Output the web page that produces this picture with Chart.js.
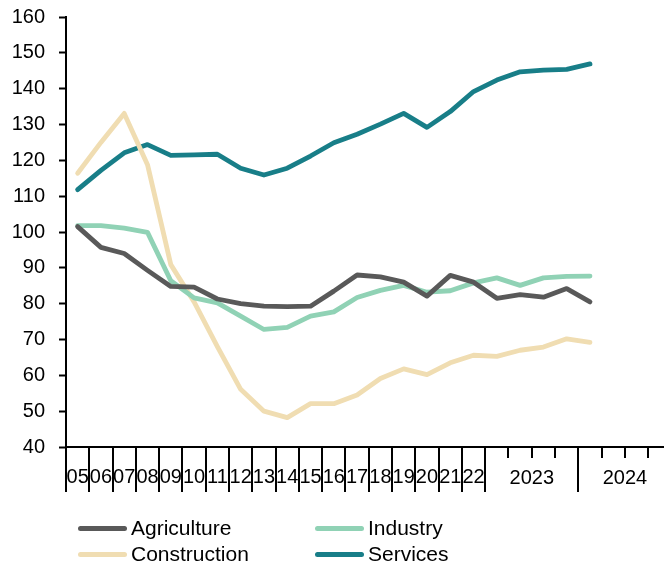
<!DOCTYPE html>
<html lang="en">
<head>
    <meta charset="UTF-8">
    <title>Gross value added by sector</title>
    <script src="https://cdn.jsdelivr.net/npm/chart.js"></script>
    <style>
        body { margin: 0; overflow: hidden; background: #fff; }
        #wrap { position: relative; width: 680px; height: 567px; }
        #legend {
            position: absolute; left: 78px; top: 516px;
            display: grid; grid-template-columns: 237px 200px; row-gap: 2px;
            font: 21px "Liberation Sans", Arial, sans-serif; color: #000;
        }
        .item { display: flex; align-items: center; height: 24px; }
        .swatch { width: 49px; height: 5px; border-radius: 3px; margin-right: 4px; }
    </style>
</head>
<body>
<div id="wrap">
    <canvas id="chart" width="680" height="567"></canvas>
    <div id="legend"></div>
</div>
<script>
    // annual categories, then quarters of 2023 and 2024
    const years = ['05', '06', '07', '08', '09', '10', '11', '12', '13', '14', '15', '16', '17', '18', '19', '20', '21', '22'];
    const quarterYears = ['2023', '2024'];
    const quarters = ['Q1', 'Q2', 'Q3', 'Q4'];
    const labels = years.concat(...quarterYears.map(y => quarters.map(q => y + ' ' + q)));

    const agriculture = [101.5, 95.7, 94.0, 89.3, 84.8, 84.6, 81.3, 80.0, 79.3, 79.2, 79.3, 83.5, 88.0, 87.5, 86.0, 82.1, 87.9, 86.0, 81.5, 82.5, 81.8, 84.2, 80.5];
    const industry = [101.8, 101.8, 101.1, 99.9, 86.4, 81.6, 80.2, 76.5, 72.8, 73.4, 76.5, 77.7, 81.7, 83.7, 85.1, 83.2, 83.6, 85.8, 87.2, 85.1, 87.2, 87.6, 87.7];
    const construction = [116.4, 125.0, 133.1, 118.8, 90.9, 80.5, 68.0, 56.1, 50.0, 48.2, 52.1, 52.1, 54.5, 59.1, 61.8, 60.2, 63.5, 65.6, 65.3, 67.0, 67.9, 70.2, 69.2];
    const services = [111.8, 117.2, 122.1, 124.4, 121.4, 121.5, 121.7, 117.8, 115.9, 117.8, 121.2, 124.9, 127.3, 130.1, 133.1, 129.2, 133.6, 139.2, 142.4, 144.7, 145.2, 145.4, 146.9];

    const FONT = '"Liberation Sans", Arial, sans-serif';

    const series = [
        { label: 'Agriculture', data: agriculture, color: '#595959' },
        { label: 'Industry', data: industry, color: '#90d2b5' },
        { label: 'Construction', data: construction, color: '#f0ddb2' },
        { label: 'Services', data: services, color: '#187e88' }
    ];

    // tick marks under the x axis: long ones between years, short ones between quarters
    const xTicks = {
        id: 'xTicks',
        afterDraw(chart) {
            const ctx = chart.ctx, x = chart.scales.x, b = chart.chartArea.bottom;
            const half = (x.getPixelForValue(1) - x.getPixelForValue(0)) / 2;
            ctx.save();
            ctx.strokeStyle = '#000';
            ctx.lineWidth = 2;
            ctx.beginPath();
            for (let i = 0; i <= labels.length; i++) {
                const px = Math.round(x.getPixelForValue(i) - half);
                const long = i <= years.length || (i - years.length) % 4 === 0;
                ctx.moveTo(px, b);
                ctx.lineTo(px, b + (long ? 45 : 11));
            }
            ctx.stroke();
            ctx.fillStyle = '#000';
            ctx.font = '20px ' + FONT;
            ctx.textAlign = 'center';
            ctx.textBaseline = 'middle';
            quarterYears.forEach((yr, k) => {
                const i0 = years.length + 4 * k;
                const cx = (x.getPixelForValue(i0) + x.getPixelForValue(i0 + 3)) / 2;
                ctx.fillText(yr, cx, b + 31);
            });
            ctx.restore();
        }
    };

    new Chart(document.getElementById('chart'), {
        type: 'line',
        data: {
            labels: labels,
            datasets: series.map(s => ({
                label: s.label,
                data: s.data,
                borderColor: s.color,
                backgroundColor: s.color,
                borderWidth: 4.8,
                borderCapStyle: 'round',
                borderJoinStyle: 'round',
                pointRadius: 0,
                tension: 0
            }))
        },
        options: {
            responsive: false,
            animation: false,
            layout: { padding: { top: 17, right: 8.5, left: 0, bottom: 0 } },
            plugins: { legend: { display: false }, tooltip: { enabled: false } },
            scales: {
                x: {
                    offset: true,
                    grid: { display: true, drawOnChartArea: false, drawTicks: false, offset: true, color: 'transparent' },
                    border: { display: true, color: '#000', width: 2 },
                    ticks: {
                        autoSkip: false, maxRotation: 0, minRotation: 0, padding: 18,
                        color: '#000', font: { size: 20, family: FONT },
                        callback: (v, i) => i < years.length ? years[i] : ''
                    },
                    afterFit: s => { s.height = 120; s.paddingLeft = 0; s.paddingRight = 0; }
                },
                y: {
                    min: 40, max: 160,
                    ticks: { stepSize: 10, padding: 14, color: '#000', font: { size: 20, family: FONT } },
                    grid: { drawOnChartArea: false, tickLength: 7, tickColor: '#000', tickWidth: 2 },
                    border: { display: true, color: '#000', width: 2 },
                    afterFit: s => { s.width = 66; s.paddingTop = 0; s.paddingBottom = 0; }
                }
            }
        },
        plugins: [xTicks]
    });

    const legend = document.getElementById('legend');
    [0, 1, 2, 3].forEach(i => {
        const s = series[i];
        const el = document.createElement('div');
        el.className = 'item';
        el.innerHTML = '<span class="swatch" style="background:' + s.color + '"></span>' + s.label;
        legend.appendChild(el);
    });
</script>
</body>
</html>
